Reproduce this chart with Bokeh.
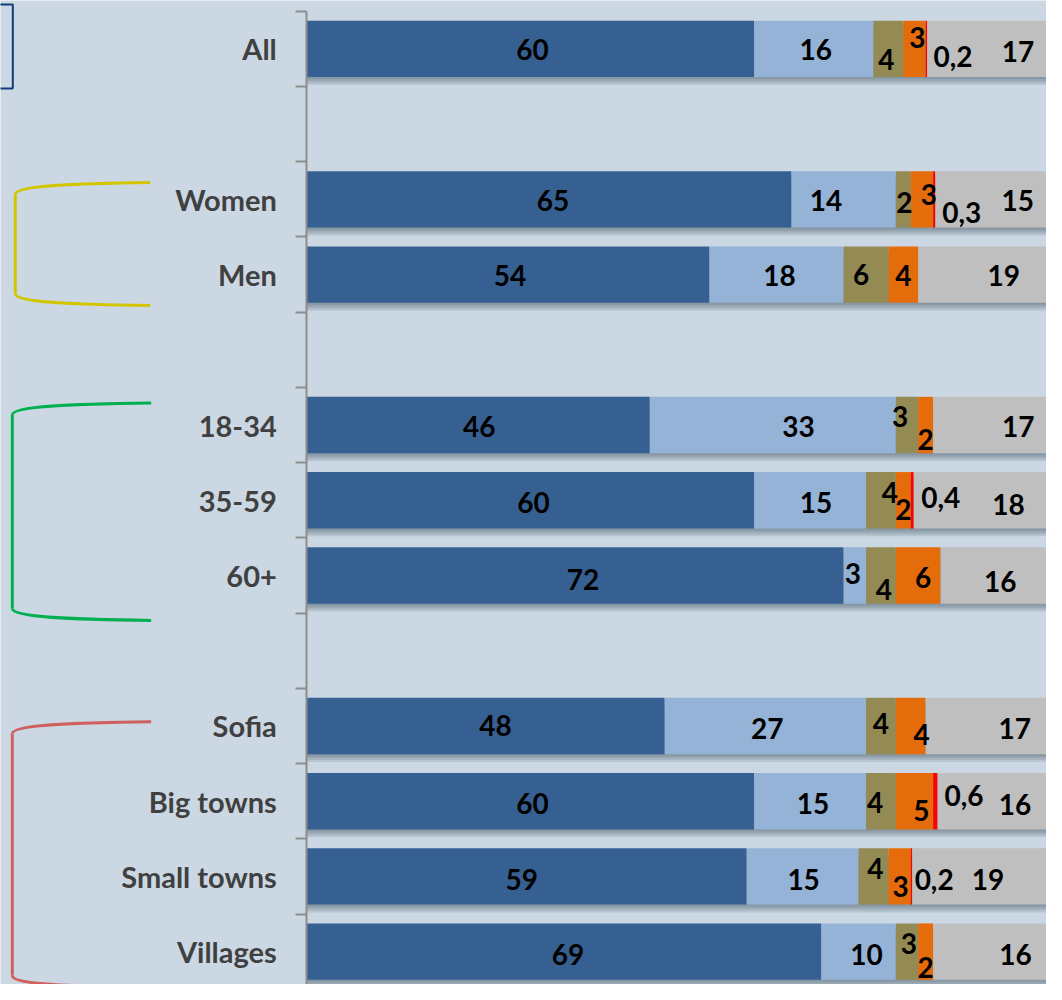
from bokeh.plotting import figure
from bokeh.models import ColumnDataSource, Range1d, FixedTicker
from bokeh.core.properties import value
from bokeh.embed import file_html
from bokeh.resources import INLINE

# ---------------- data ----------------
categories = ["All", "", "Women", "Men", "", "18-34", "35-59", "60+", "",
              "Sofia", "Big towns", "Small towns", "Villages"]
dark   = [60, 65, 54, 46, 60, 72, 48, 60, 59, 69]
light  = [16, 14, 18, 33, 15, 3, 27, 15, 15, 10]
olive  = [4, 2, 6, 3, 4, 4, 4, 4, 4, 3]
orange = [3, 3, 4, 2, 2, 6, 4, 5, 3, 2]
red    = [0.2, 0.3, 0, 0, 0.4, 0, 0, 0.6, 0.2, 0]
gray   = [17, 15, 19, 17, 18, 16, 17, 16, 19, 16]

# ---------------- layout / style ----------------
W, H = 1046, 984                 # canvas size
REF_W, REF_H = 1062, 1000        # design size (layout numbers below are in these units)
SX, SY = W / REF_W, H / REF_H
PX = 7.57            # design px per percentage unit
SLOT = 76.45         # design px per category slot
AXIS_PX = 311        # design x of the value axis
ROW0_PX = 49.2       # design y of first category centre
BG = "#CBD8E4"
colors = ["#366092", "#95B3D7", "#948A54", "#E46C0A", "#FF0000", "#BFBFBF"]
names = ["dark", "light", "olive", "orange", "red", "gray"]

# label offsets (design px) per series per row
offsets = {
    "dark":   [(2, 1), (4, 1), (2, 1), (1, 1), (3, 2), (8, 4), (10, 0), (2, 2), (-5, 3), (4, 3)],
    "light":  [(2, 1), (-18, 1), (3, 1), (26, 1), (6, 2), (-2, -2), (2, 3), (3, 2), (1, 3), (8, 3)],
    "olive":  [(-2, 11), (1, 3), (-5, 0), (-7, -9), (9, -8), (3, 14), (0, -2), (-6, 1), (2, -8), (2, -8)],
    "orange": [(3, -12), (7, -5), (0, 1), (0, 15), (0, 9), (5, 2), (11, 9), (7, 9), (1, 10), (0, 16)],
    "red":    [(27, 8), (28, 13), (0, 0), (0, 0), (29, -3), (0, 0), (0, 0), (29, -6), (23, 3), (0, 0)],
    "gray":   [(28, 3), (27, 1), (15, 1), (22, 1), (28, 4), (0, 6), (26, 3), (18, 3), (5, 3), (23, 3)],
}

def dx(px):   # design px -> data x
    return (px - AXIS_PX) / PX

def dy(px):   # design px -> data y
    return (px - ROW0_PX) / SLOT

rows = [i for i, c in enumerate(categories) if c]
series = [dark, light, olive, orange, red, gray]
totals = [sum(s[k] for s in series) for k in range(len(rows))]

src = ColumnDataSource(dict(row=rows, dark=dark, light=light, olive=olive,
                            orange=orange, red=red, gray=gray, total=totals))

p = figure(width=W, height=H, output_backend="svg", toolbar_location=None,
           x_axis_location=None, min_border=0,
           x_range=Range1d(dx(0), dx(REF_W)), y_range=Range1d(dy(REF_H), dy(0)))
p.background_fill_color = BG
p.border_fill_color = BG
p.outline_line_color = None
p.xgrid.visible = False
p.ygrid.visible = False

# soft shadows under the bars
for k in range(1, 5):
    sh = ColumnDataSource(dict(y=[r + 2.0 * k / SLOT for r in rows], total=totals))
    p.hbar(y="y", left=0, right="total", height=0.75, source=sh,
           fill_color="#1c2a38", fill_alpha=0.11, line_color=None)

p.hbar_stack(names, y="row", height=0.75, color=colors, source=src, line_color=None)

# labels
def fmt(v):
    return str(int(v)) if float(v).is_integer() else str(v).replace(".", ",")

lx, ly, lt, lox, loy = [], [], [], [], []
cum = [0.0] * len(rows)
for name, s in zip(names, series):
    for k, r in enumerate(rows):
        v = s[k]
        if v > 0:
            lx.append(cum[k] + v / 2.0)
            ly.append(r)
            lt.append(fmt(v))
            lox.append(offsets[name][k][0] * SX)
            loy.append(offsets[name][k][1] * SY)
        cum[k] += v
lab = ColumnDataSource(dict(x=lx, y=ly, text=lt, ox=lox, oy=loy))
p.text(x="x", y="y", text="text", x_offset="ox", y_offset="oy", source=lab,
       text_font=value("Lato"), text_font_style="bold", text_font_size="28px",
       text_align="center", text_baseline="middle", text_color="#000000")

# brackets (group decorations), design px
brackets = [  # (x_end, x_vert, top, bottom, colour)
    (152, 15, 185, 310, "#D3C600"),
    (153, 12, 409, 630, "#00B050"),
    (153, 12, 733, 1003, "#D0605E"),
]
for xe, xv, top, bot, col in brackets:
    p.bezier(x0=[dx(xe)], y0=[dy(top)], x1=[dx(xv)], y1=[dy(top + 12)],
             cx0=[dx(xv + 60)], cy0=[dy(top + 1)], cx1=[dx(xv)], cy1=[dy(top + 3)],
             line_color=col, line_width=3)
    p.segment(x0=[dx(xv)], y0=[dy(top + 12)], x1=[dx(xv)], y1=[dy(bot - 12)],
              line_color=col, line_width=3)
    p.bezier(x0=[dx(xv)], y0=[dy(bot - 12)], x1=[dx(xe)], y1=[dy(bot)],
             cx0=[dx(xv)], cy0=[dy(bot - 3)], cx1=[dx(xv + 60)], cy1=[dy(bot - 1)],
             line_color=col, line_width=3)

# partial legend box at top-left
p.quad(left=[dx(-60)], right=[dx(12.5)], top=[dy(4)], bottom=[dy(89.5)],
       fill_color=None, line_color="#0E3F7A", line_width=2)

# category axis on the value zero line
ax = p.yaxis[0]
ax.fixed_location = 0
ax.bounds = (-0.5, dy(REF_H) + 0.1)
ax.ticker = FixedTicker(ticks=list(range(len(categories))),
                        minor_ticks=[i - 0.5 for i in range(len(categories) + 1)])
ax.major_label_overrides = {i: c for i, c in enumerate(categories)}
ax.major_tick_out = 0
ax.major_tick_in = 0
ax.minor_tick_out = 11
ax.minor_tick_in = 0
ax.minor_tick_line_color = "#8C8C8C"
ax.minor_tick_line_width = 2
ax.axis_line_color = "#8C8C8C"
ax.axis_line_width = 2
ax.major_label_standoff = 19
ax.major_label_text_font = "Lato"
ax.major_label_text_font_style = "bold"
ax.major_label_text_font_size = "29px"
ax.major_label_text_color = "#404040"

open("out.html", "w").write(file_html(p, INLINE))
